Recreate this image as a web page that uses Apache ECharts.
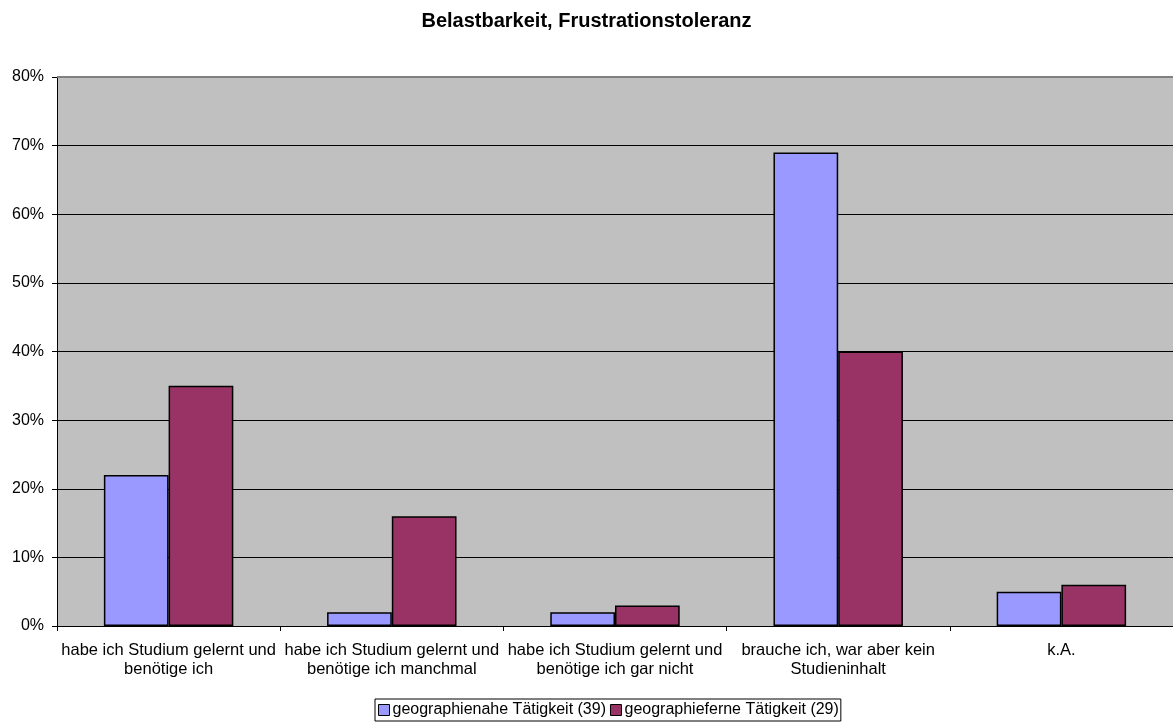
<!DOCTYPE html>
<html>
<head>
<meta charset="utf-8">
<style>
  html, body { margin: 0; padding: 0; background: #ffffff; }
  #chart { width: 1173px; height: 722px; }
</style>
<script src="https://cdn.jsdelivr.net/npm/echarts@6/dist/echarts.min.js"></script>
</head>
<body>
<div id="chart"></div>
<script>
// Answer categories (two-line axis labels)
const categories = [
  'habe ich Studium gelernt und\nbenötige ich',
  'habe ich Studium gelernt und\nbenötige ich manchmal',
  'habe ich Studium gelernt und\nbenötige ich gar nicht',
  'brauche ich, war aber kein\nStudieninhalt',
  'k.A.'
];
const seriesNames = ['geographienahe Tätigkeit (39)', 'geographieferne Tätigkeit (29)'];
// Shares in percent
const nahe = [22, 2, 2, 69, 5];
const ferne = [35, 16, 3, 40, 6];
const yTicks = [0, 10, 20, 30, 40, 50, 60, 70, 80];

const font = 'Arial, "Liberation Sans", sans-serif';
const chart = echarts.init(document.getElementById('chart'));

chart.setOption({
  animation: false,
  backgroundColor: '#ffffff',
  title: {
    text: 'Belastbarkeit, Frustrationstoleranz',
    left: 'center',
    top: 6,
    textStyle: { fontFamily: font, fontSize: 20, fontWeight: 'bold', color: '#000' }
  },
  legend: {
    bottom: 1,
    left: 375,
    itemWidth: 11,
    itemHeight: 11,
    itemGap: 4,
    padding: [3, 2, 3, 3],
    borderColor: '#000',
    borderWidth: 1,
    icon: 'rect',
    itemStyle: { borderColor: '#000', borderWidth: 1 },
    textStyle: { fontFamily: font, fontSize: 16, color: '#000', padding: [0, 0, 0, -2] },
    data: seriesNames
  },
  grid: {
    left: 57, right: 0, top: 77, bottom: 96,
    show: true,
    backgroundColor: '#c0c0c0',
    borderWidth: 0
  },
  xAxis: {
    type: 'category',
    data: categories,
    axisLine: { lineStyle: { color: '#000', width: 1 } },
    axisTick: { show: true, length: 5, lineStyle: { color: '#000' } },
    axisLabel: {
      fontFamily: font, fontSize: 16.5, color: '#000',
      margin: 15, lineHeight: 19, interval: 0
    }
  },
  yAxis: {
    type: 'value',
    min: 0, max: 80, interval: 10,
    axisLine: { show: true, lineStyle: { color: '#000' } },
    axisTick: { show: true, length: 5, lineStyle: { color: '#000' } },
    axisLabel: {
      fontFamily: font, fontSize: 16, color: '#000', margin: 13,
      formatter: v => (yTicks.includes(v) ? v + '%' : '')
    },
    splitLine: { show: true, lineStyle: { color: '#000', width: 1 } }
  },
  series: [
    {
      name: seriesNames[0],
      type: 'bar',
      data: nahe,
      barGap: '0%',
      barCategoryGap: '42%',
      itemStyle: { color: '#9999ff', borderColor: '#000', borderWidth: 1.5 }
    },
    {
      name: seriesNames[1],
      type: 'bar',
      data: ferne,
      itemStyle: { color: '#993366', borderColor: '#000', borderWidth: 1.5 },
      markLine: {
        silent: true,
        symbol: 'none',
        label: { show: false },
        lineStyle: { color: '#808080', type: 'solid', width: 2 },
        data: [{ yAxis: 80 }]
      }
    }
  ]
});
</script>
</body>
</html>
